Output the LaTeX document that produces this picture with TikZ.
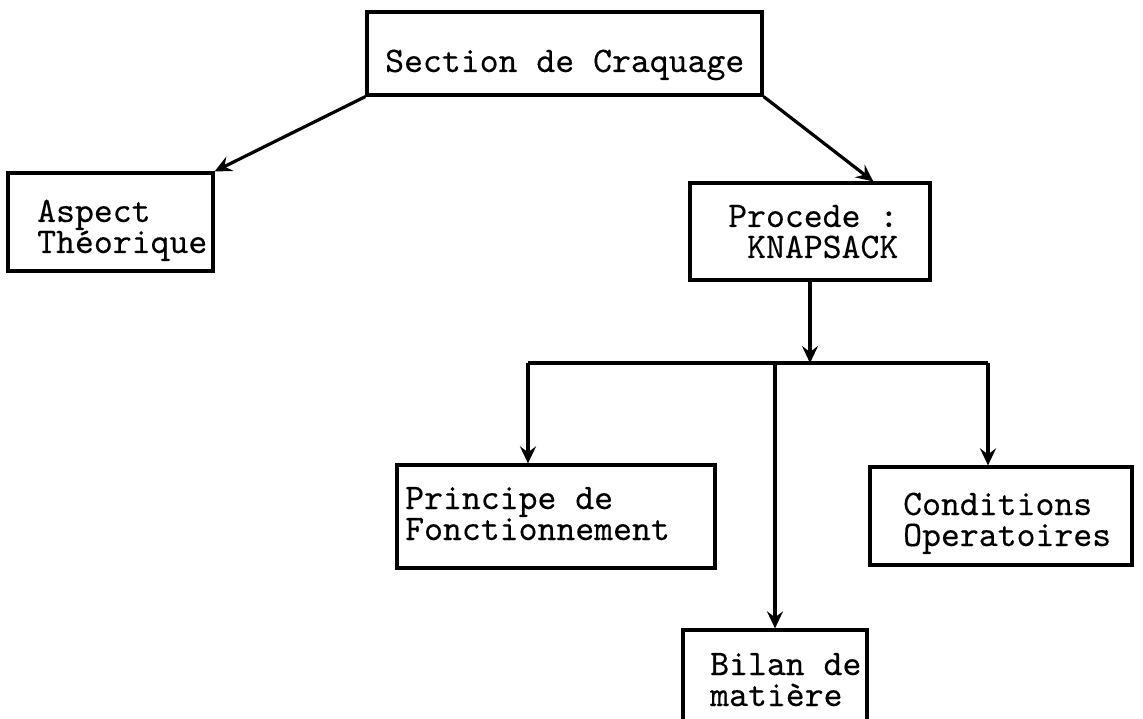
\documentclass[tikz,border=0pt]{standalone}
\usepackage{fontspec}
\newfontfamily\tw[FakeBold=0.25]{lmmono10-regular.otf}
\usetikzlibrary{arrows.meta,calc}
\begin{document}
\begin{tikzpicture}[x=1pt,y=-1pt,
  box/.style={draw=black,line width=3.2pt,rectangle,inner sep=0pt,minimum width=#1},
  txt/.style={anchor=base west,inner sep=0pt,align=left,font=\tw\fontsize{36}{31}\selectfont},
  link/.style={draw=black,line width=3.2pt},
  arr/.style={link,-{Stealth[length=17pt,width=16pt,inset=6pt]}}]
\clip (0,0) rectangle (1143,719);
\fill[white] (0,0) rectangle (1143,719);
% boxes
\node[box=395pt,minimum height=83pt] (sec) at (564.5,53.5) {};
\node[box=205pt,minimum height=98pt] (asp) at (110.5,222) {};
\node[box=240pt,minimum height=97pt] (proc) at (810,231.5) {};
\node[box=318pt,minimum height=103pt] (pri) at (556,516.5) {};
\node[box=262pt,minimum height=98pt] (con) at (1001,516) {};
\node[box=184pt,minimum height=100pt] (bil) at (775,680) {};
% texts (anchor = baseline of last line)
\node[txt] (sect) at (385,72) {Section de Craquage};
\node[txt] (aspt) at (37,253) {Aspect\\Théorique};
\node[txt] (proct) at (728,258) {Procede :\\\hphantom{K}KNAPSACK};
\node[txt] (prit) at (405,540) {Principe de\\Fonctionnement};
\node[txt] (cont) at (903,546) {Conditions\\Operatoires};
\node[txt] (bilt) at (710,706) {Bilan de\\matière};
% connectors
\coordinate (ptarget) at ($(proc.north west)!0.76!(proc.north east)$);
\draw[arr] (sec.south west) -- (asp.north east);
\draw[arr] (sec.south east) -- (ptarget);
\coordinate (bus) at (proc.south |- 0,363);
\coordinate (bl) at (528,363);
\coordinate (bm) at (bil.north |- 0,363);
\coordinate (br) at (988,363);
\draw[arr] (proc.south) -- (bus);
\draw[link] (bl) -- (br);
\draw[arr] (bl) -- (bl |- pri.north);
\draw[arr] (bm) -- (bil.north);
\draw[arr] (br) -- (br |- con.north);
\end{tikzpicture}
\end{document}
